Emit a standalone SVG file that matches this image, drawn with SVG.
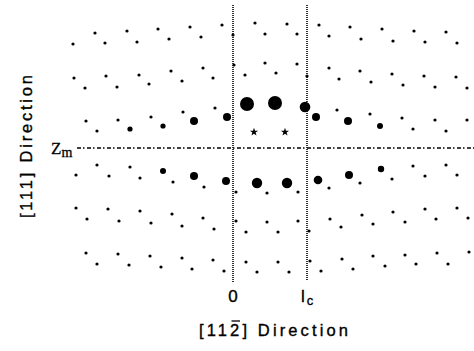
<svg xmlns="http://www.w3.org/2000/svg" xmlns:xlink="http://www.w3.org/1999/xlink" width="474" height="351" viewBox="0 0 474 351">
<defs>
<style>
.s{fill:#000}
.s circle{r:1.6}
.vl{stroke:#000;stroke-width:1.6;stroke-dasharray:1 1;fill:none}
.hl{stroke:#000;stroke-width:1.4;stroke-dasharray:4 2 1.5 2.5;fill:none}
.lab{font-family:"Liberation Sans",Arial,sans-serif;fill:#000;stroke:#000;stroke-width:0.35}
.ser{font-family:"Liberation Serif","Times New Roman",serif;fill:#000;stroke:#000;stroke-width:0.3}
</style>
<path id="star" d="M0,-4.3 L1,-1.37 L4.09,-1.33 L1.62,0.52 L2.53,3.48 L0,1.7 L-2.53,3.48 L-1.62,0.52 L-4.09,-1.33 L-1,-1.37 Z"/>
</defs>
<rect width="474" height="351" fill="#fff"/>
<g id="connectors">
<line class="vl" x1="233" y1="5" x2="233" y2="283"/>
<line class="vl" x1="307" y1="5" x2="307" y2="280"/>
<line class="hl" x1="77" y1="148" x2="474" y2="148"/>
</g>
<g id="small-dots" class="s">
<circle cx="95" cy="33" r="1.6"/><circle cx="127" cy="31" r="1.6"/><circle cx="158" cy="29" r="1.6"/><circle cx="190" cy="27" r="1.6"/><circle cx="222" cy="25" r="1.6"/><circle cx="255" cy="23" r="1.6"/><circle cx="287" cy="24" r="1.6"/><circle cx="319" cy="25" r="1.6"/><circle cx="350" cy="27" r="1.6"/><circle cx="382" cy="29" r="1.6"/><circle cx="414" cy="31" r="1.6"/><circle cx="446" cy="32" r="1.6"/>
<circle cx="73" cy="44" r="1.6"/><circle cx="105" cy="43" r="1.6"/><circle cx="137" cy="42" r="1.6"/><circle cx="169" cy="39" r="1.6"/><circle cx="201" cy="37" r="1.6"/><circle cx="233" cy="35" r="1.6"/><circle cx="265" cy="34" r="1.6"/><circle cx="297" cy="34" r="1.6"/><circle cx="329" cy="36" r="1.6"/><circle cx="361" cy="39" r="1.6"/><circle cx="393" cy="41" r="1.6"/><circle cx="425" cy="42" r="1.6"/><circle cx="457" cy="43" r="1.6"/>
<circle cx="74" cy="78" r="1.6"/><circle cx="106" cy="76" r="1.6"/><circle cx="139" cy="75" r="1.6"/><circle cx="171" cy="71" r="1.6"/><circle cx="203" cy="68" r="1.6"/><circle cx="234" cy="65" r="1.6"/><circle cx="265" cy="63" r="1.6"/><circle cx="297" cy="64" r="1.6"/><circle cx="329" cy="68" r="1.6"/><circle cx="360" cy="71" r="1.6"/><circle cx="392" cy="74" r="1.6"/><circle cx="424" cy="76" r="1.6"/><circle cx="456" cy="77" r="1.6"/>
<circle cx="85" cy="88" r="1.6"/><circle cx="117" cy="87" r="1.6"/><circle cx="149" cy="84" r="1.6"/><circle cx="182" cy="81" r="1.6"/><circle cx="213" cy="78" r="1.6"/><circle cx="245" cy="75" r="1.6"/><circle cx="276" cy="73" r="1.6"/><circle cx="307" cy="76" r="1.6"/><circle cx="339" cy="79" r="1.6"/><circle cx="371" cy="82" r="1.6"/><circle cx="403" cy="85" r="1.6"/><circle cx="435" cy="87" r="1.6"/><circle cx="467" cy="88" r="1.6"/>
<circle cx="86" cy="121" r="1.6"/><circle cx="118" cy="120" r="1.6"/><circle cx="151" cy="117" r="1.6"/><circle cx="183" cy="112" r="1.6"/><circle cx="215" cy="108" r="1.6"/><circle cx="337" cy="110" r="1.6"/><circle cx="370" cy="114" r="1.6"/><circle cx="402" cy="118" r="1.6"/><circle cx="435" cy="120" r="1.6"/><circle cx="467" cy="120" r="1.6"/>
<circle cx="97" cy="131" r="1.6"/><circle cx="413" cy="129" r="1.6"/><circle cx="446" cy="131" r="1.6"/>
<circle cx="97" cy="165" r="1.6"/><circle cx="130" cy="167" r="1.6"/><circle cx="413" cy="166" r="1.6"/><circle cx="446" cy="165" r="1.6"/>
<circle cx="76" cy="175" r="1.6"/><circle cx="109" cy="176" r="1.6"/><circle cx="140" cy="178" r="1.6"/><circle cx="173" cy="182" r="1.6"/><circle cx="204" cy="187" r="1.6"/><circle cx="236" cy="192" r="1.6"/><circle cx="267" cy="193" r="1.6"/><circle cx="298" cy="192" r="1.6"/><circle cx="329" cy="188" r="1.6"/><circle cx="360" cy="183" r="1.6"/><circle cx="392" cy="179" r="1.6"/><circle cx="425" cy="176" r="1.6"/><circle cx="457" cy="175" r="1.6"/>
<circle cx="76" cy="208" r="1.6"/><circle cx="108" cy="209" r="1.6"/><circle cx="140" cy="211" r="1.6"/><circle cx="172" cy="214" r="1.6"/><circle cx="203" cy="218" r="1.6"/><circle cx="236" cy="221" r="1.6"/><circle cx="267" cy="222" r="1.6"/><circle cx="298" cy="221" r="1.6"/><circle cx="330" cy="219" r="1.6"/><circle cx="362" cy="215" r="1.6"/><circle cx="393" cy="212" r="1.6"/><circle cx="425" cy="209" r="1.6"/><circle cx="457" cy="208" r="1.6"/>
<circle cx="87" cy="219" r="1.6"/><circle cx="119" cy="221" r="1.6"/><circle cx="151" cy="223" r="1.6"/><circle cx="182" cy="226" r="1.6"/><circle cx="214" cy="229" r="1.6"/><circle cx="246" cy="232" r="1.6"/><circle cx="278" cy="232" r="1.6"/><circle cx="309" cy="231" r="1.6"/><circle cx="341" cy="227" r="1.6"/><circle cx="373" cy="224" r="1.6"/><circle cx="405" cy="222" r="1.6"/><circle cx="436" cy="219" r="1.6"/><circle cx="468" cy="218" r="1.6"/>
<circle cx="86" cy="253" r="1.6"/><circle cx="118" cy="254" r="1.6"/><circle cx="150" cy="256" r="1.6"/><circle cx="182" cy="258" r="1.6"/><circle cx="213" cy="260" r="1.6"/><circle cx="246" cy="262" r="1.6"/><circle cx="278" cy="262" r="1.6"/><circle cx="310" cy="261" r="1.6"/><circle cx="342" cy="259" r="1.6"/><circle cx="373" cy="256" r="1.6"/><circle cx="405" cy="255" r="1.6"/><circle cx="437" cy="253" r="1.6"/><circle cx="469" cy="252" r="1.6"/>
<circle cx="97" cy="264" r="1.6"/><circle cx="129" cy="265" r="1.6"/><circle cx="161" cy="267" r="1.6"/><circle cx="192" cy="269" r="1.6"/><circle cx="224" cy="271" r="1.6"/><circle cx="257" cy="272" r="1.6"/><circle cx="289" cy="272" r="1.6"/><circle cx="321" cy="271" r="1.6"/><circle cx="353" cy="269" r="1.6"/><circle cx="385" cy="266" r="1.6"/><circle cx="416" cy="264" r="1.6"/><circle cx="448" cy="264" r="1.6"/>
</g>
<g id="large-dots" class="s">
<circle cx="130" cy="129" r="2.6" style="r:2.6"/><circle cx="163" cy="126" r="2.6" style="r:2.6"/><circle cx="194" cy="121" r="4" style="r:4"/><circle cx="227" cy="117" r="4" style="r:4"/><circle cx="247" cy="104" r="7" style="r:7"/><circle cx="275" cy="103" r="7" style="r:7"/><circle cx="305" cy="107" r="5.3" style="r:5.3"/><circle cx="316" cy="117" r="4" style="r:4"/><circle cx="348" cy="121" r="4" style="r:4"/><circle cx="380" cy="126" r="3" style="r:3"/>
<circle cx="163" cy="171" r="3" style="r:3"/><circle cx="194" cy="176" r="4" style="r:4"/><circle cx="226" cy="181" r="4" style="r:4"/><circle cx="257" cy="183" r="5.2" style="r:5.2"/><circle cx="287" cy="183" r="5.2" style="r:5.2"/><circle cx="318" cy="180" r="4.3" style="r:4.3"/><circle cx="349" cy="175" r="4" style="r:4"/><circle cx="381" cy="169" r="3.2" style="r:3.2"/>
</g>
<g id="stars" class="s">
<use xlink:href="#star" x="254" y="132"/>
<use xlink:href="#star" x="285" y="132"/>
</g>
<g id="labels">
<text class="ser" x="51" y="154" font-size="17">Z<tspan font-size="14" dy="3">m</tspan></text>
<text class="lab" x="233" y="302" font-size="17" text-anchor="middle">0</text>
<text class="lab" x="301" y="302" font-size="17">l<tspan font-size="13" dx="2" dy="3">c</tspan></text>
<text class="lab" x="199" y="336" font-size="16.5" textLength="149" lengthAdjust="spacing">[112] Direction</text>
<line x1="231.5" y1="321" x2="240" y2="321" stroke="#000" stroke-width="1.3"/>
<text class="lab" transform="translate(32,218) rotate(-90)" x="0" y="0" font-size="16.5" textLength="143" lengthAdjust="spacing">[111] Direction</text>
</g>
</svg>
